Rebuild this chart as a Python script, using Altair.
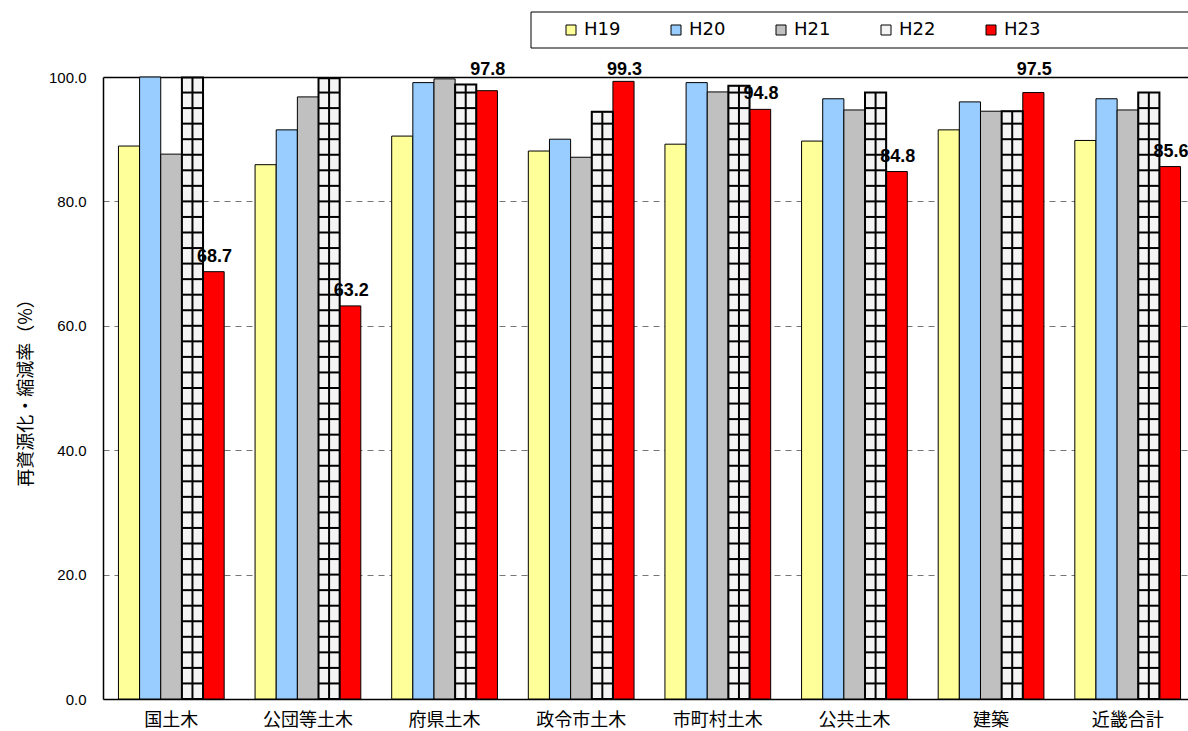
import altair as alt
import pandas as pd

# Recycling / reduction rate (%) by sector, fiscal years H19-H23
categories = ["国土木", "公団等土木", "府県土木", "政令市土木", "市町村土木", "公共土木", "建築", "近畿合計"]
years = ["H19", "H20", "H21", "H22", "H23"]
h19 = [88.9, 85.9, 90.5, 88.1, 89.2, 89.7, 91.5, 89.8]
h20 = [100.0, 91.5, 99.1, 90.0, 99.1, 96.5, 96.0, 96.5]
h21 = [87.6, 96.8, 99.7, 87.1, 97.6, 94.7, 94.5, 94.7]
h22 = [99.9, 99.8, 98.8, 94.4, 98.6, 97.5, 94.5, 97.5]
h23 = [68.7, 63.2, 97.8, 99.3, 94.8, 84.8, 97.5, 85.6]
fills = ["#FFFF99", "#99CCFF", "#C0C0C0", "#F4F4F4", "#FF0000"]
y_ticks = [0, 20, 40, 60, 80, 100]

series = dict(zip(years, [h19, h20, h21, h22, h23]))
rows = [
    {"category": c, "year": y, "value": v}
    for y in years
    for c, v in zip(categories, series[y])
]
df = pd.DataFrame(rows)
df_h22 = df[df["year"] == "H22"]
df_h23 = df[df["year"] == "H23"]

# Grid texture of the H22 bars: a horizontal line every 2.5 points up to the bar top
grid_rows = []
for c, v in zip(categories, h22):
    k = 1
    while k * 2.5 < v - 0.5:
        grid_rows.append({"category": c, "year": "H22", "level": k * 2.5})
        k += 1
df_grid = pd.DataFrame(grid_rows)

AXIS_TITLE = "再資源化・縮減率（%）"

x_enc = alt.X(
    "category:N",
    sort=categories,
    scale=alt.Scale(domain=categories, range=[0, 1093], paddingInner=0, paddingOuter=0),
    axis=alt.Axis(
        title=None, ticks=False, labelAngle=0, labelPadding=12,
        labelFont="Noto Sans CJK JP", labelFontSize=18, labelColor="black",
        domainColor="black", domainWidth=1.5,
    ),
)
xo_enc = alt.XOffset(
    "year:N", scale=alt.Scale(domain=years, paddingInner=0, paddingOuter=0.73)
)
y_scale = alt.Scale(domain=[0, 100], nice=False)
y_axis = alt.Axis(
    values=y_ticks, format=".1f", title=AXIS_TITLE, ticks=False, labelPadding=17,
    labelFont="Liberation Sans", labelFontSize=15, labelColor="black",
    titleFont="Noto Sans CJK JP", titleFontSize=18, titleFontWeight="normal",
    titleColor="black", titlePadding=13,
    domainColor="black", domainWidth=1.5,
    grid=True,
    gridDash=alt.condition("datum.value == 100", alt.value([]), alt.value([6, 5])),
    gridColor=alt.condition("datum.value == 100", alt.value("black"), alt.value("#777777")),
    gridWidth=alt.condition("datum.value == 100", alt.value(1.5), alt.value(1)),
)


def y_enc(field):
    return alt.Y(f"{field}:Q", scale=y_scale, axis=y_axis)


bars = alt.Chart(df).mark_bar(stroke="black", strokeWidth=1).encode(
    x=x_enc,
    xOffset=xo_enc,
    y=y_enc("value"),
    fill=alt.Fill(
        "year:N",
        scale=alt.Scale(domain=years, range=fills),
        legend=alt.Legend(
            title=None, orient="none", direction="horizontal", columns=5,
            legendX=459, legendY=-56, padding=0,
            symbolType="square", symbolSize=100, symbolStrokeColor="black",
            symbolStrokeWidth=1, symbolOpacity=1,
            labelFont="DejaVu Sans", labelFontSize=18, labelColor="black",
            labelOffset=4, columnPadding=46,
        ),
    ),
)

grid_lines = alt.Chart(df_grid).mark_tick(
    orient="horizontal", size=21, thickness=2, color="black", opacity=1
).encode(x=x_enc, xOffset=xo_enc, y=y_enc("level"))

center_line = alt.Chart(df_h22).mark_rule(color="black", strokeWidth=2).encode(
    x=x_enc, xOffset=xo_enc, y=y_enc("value"), y2=alt.datum(0)
)

outline = alt.Chart(df_h22).mark_bar(
    fill="white", fillOpacity=0, stroke="black", strokeWidth=2
).encode(x=x_enc, xOffset=xo_enc, y=y_enc("value"))

labels = alt.Chart(df_h23).transform_calculate(
    labelY="datum.value + 1.6 > 98 ? 100.3 : datum.value + 1.6"
).mark_text(
    font="Liberation Sans", fontSize=18, fontWeight="bold", color="black",
    align="center", baseline="alphabetic", dx=1,
).encode(
    x=x_enc, xOffset=xo_enc, y=y_enc("labelY"),
    text=alt.Text("value:Q", format=".1f"),
)

# Frame around the legend
legend_box = alt.Chart(pd.DataFrame({"k": [0]})).mark_rect(
    fill="white", fillOpacity=0, stroke="black", strokeWidth=1
).encode(
    x=alt.value(428), x2=alt.value(1095), y=alt.value(-65), y2=alt.value(-29)
)

chart = (
    alt.layer(bars, grid_lines, center_line, outline, labels, legend_box)
    .properties(
        width=1085,
        height=622,
        padding={"left": 103, "top": 77, "right": 0, "bottom": 32},
        autosize=alt.AutoSizeParams(type="none"),
        background="white",
    )
    .configure_view(strokeWidth=0)
)

chart.save("out.html", embed_options={"renderer": "svg", "actions": False})
